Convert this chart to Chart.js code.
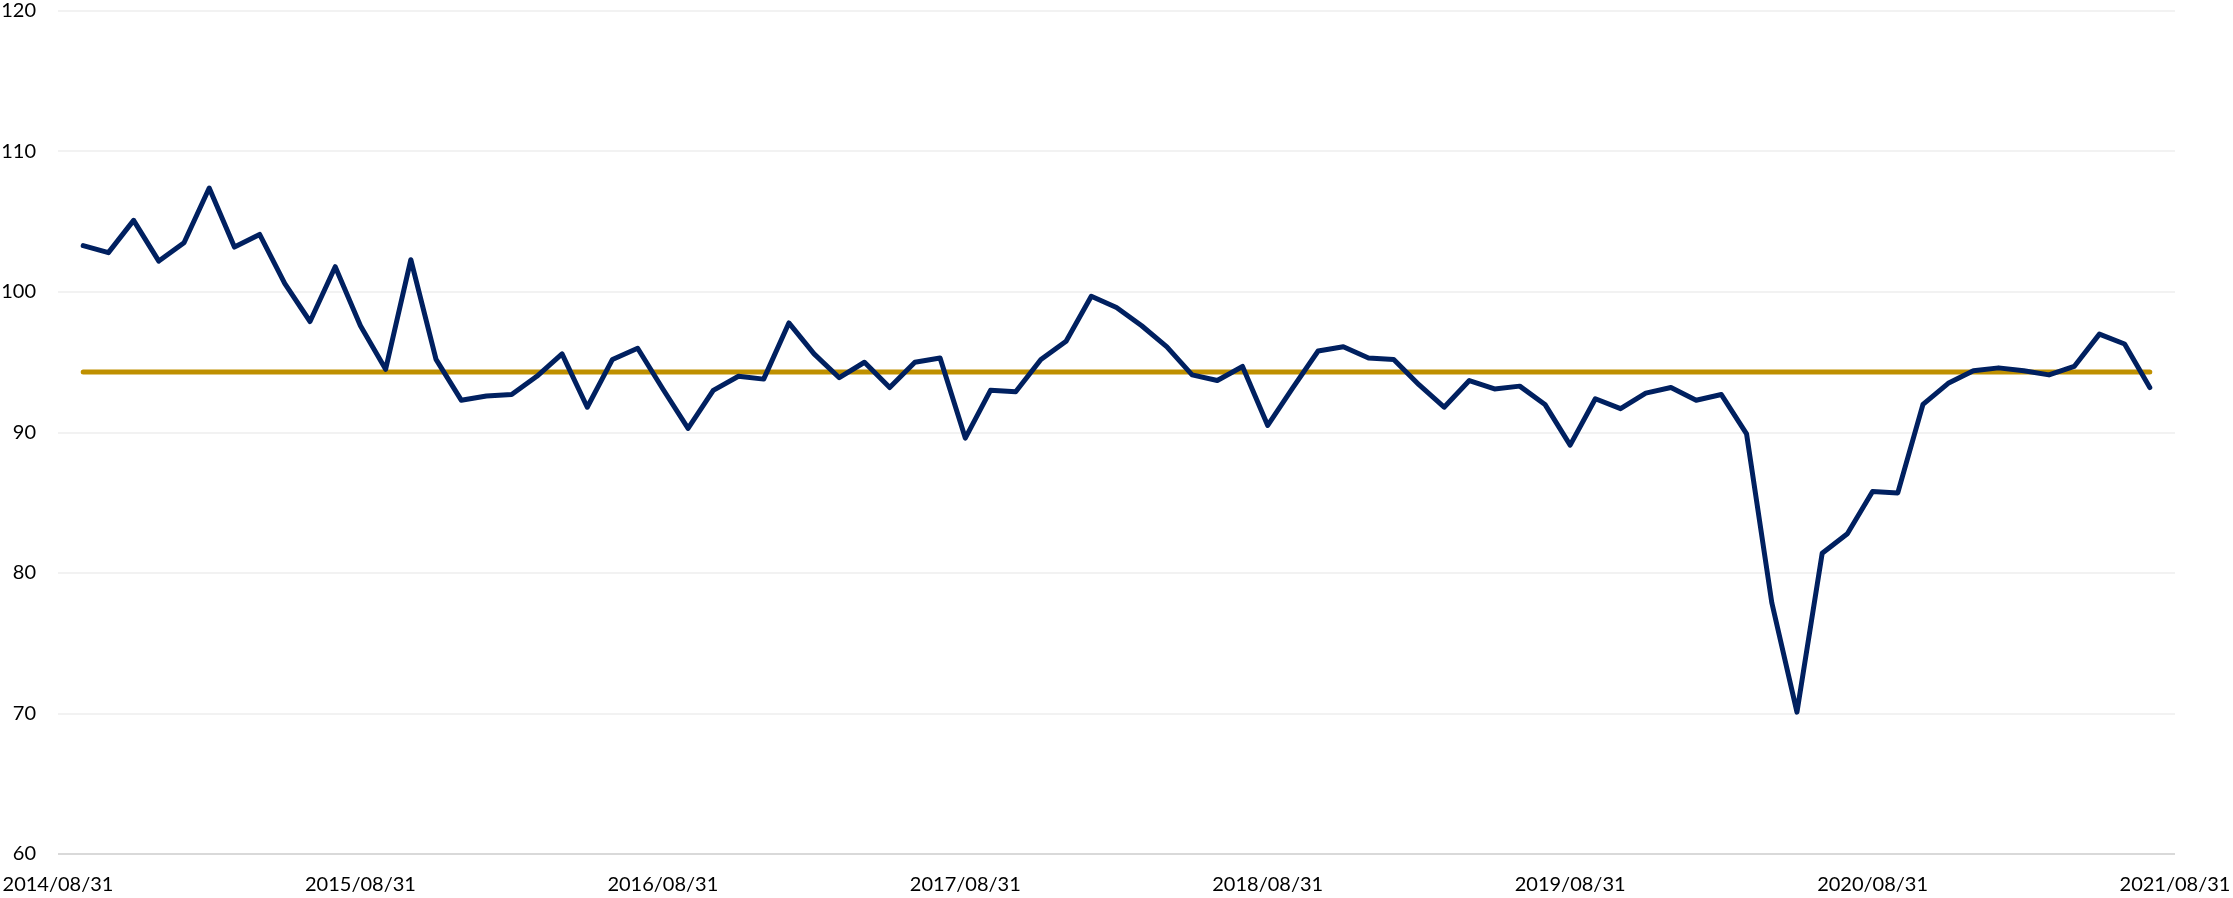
<!DOCTYPE html>
<html>
<head>
<meta charset="utf-8">
<script src="https://cdn.jsdelivr.net/npm/chart.js@4.4.1/dist/chart.umd.min.js"></script>
<style>
  html, body { margin: 0; padding: 0; background: #ffffff; }
  #wrap { position: relative; width: 2233px; height: 898px; }
</style>
</head>
<body>
<div id="wrap"><canvas id="c"></canvas></div>
<script>
// Month-end categories of the x axis
const categories = [
  '2014/08/31','2014/09/30','2014/10/31','2014/11/30','2014/12/31',
  '2015/01/31','2015/02/28','2015/03/31','2015/04/30','2015/05/31','2015/06/30','2015/07/31','2015/08/31','2015/09/30','2015/10/31','2015/11/30','2015/12/31',
  '2016/01/31','2016/02/29','2016/03/31','2016/04/30','2016/05/31','2016/06/30','2016/07/31','2016/08/31','2016/09/30','2016/10/31','2016/11/30','2016/12/31',
  '2017/01/31','2017/02/28','2017/03/31','2017/04/30','2017/05/31','2017/06/30','2017/07/31','2017/08/31','2017/09/30','2017/10/31','2017/11/30','2017/12/31',
  '2018/01/31','2018/02/28','2018/03/31','2018/04/30','2018/05/31','2018/06/30','2018/07/31','2018/08/31','2018/09/30','2018/10/31','2018/11/30','2018/12/31',
  '2019/01/31','2019/02/28','2019/03/31','2019/04/30','2019/05/31','2019/06/30','2019/07/31','2019/08/31','2019/09/30','2019/10/31','2019/11/30','2019/12/31',
  '2020/01/31','2020/02/29','2020/03/31','2020/04/30','2020/05/31','2020/06/30','2020/07/31','2020/08/31','2020/09/30','2020/10/31','2020/11/30','2020/12/31',
  '2021/01/31','2021/02/28','2021/03/31','2021/04/30','2021/05/31','2021/06/30','2021/07/31','2021/08/31'
];

// Labels shown on the x axis
const tickLabels = ['2014/08/31','2015/08/31','2016/08/31','2017/08/31','2018/08/31','2019/08/31','2020/08/31','2021/08/31'];

// Monthly index values, 2014/09/30 .. 2021/07/31
const seriesDates = categories.slice(1, 84);
const indexValues = [
  103.3, 102.8, 105.1, 102.2, 103.5, 107.4, 103.2, 104.1, 100.6, 97.9,
  101.8, 97.6, 94.5, 102.3, 95.2, 92.3, 92.6, 92.7, 94.0, 95.6,
  91.8, 95.2, 96.0, 93.1, 90.3, 93.0, 94.0, 93.8, 97.8, 95.6,
  93.9, 95.0, 93.2, 95.0, 95.3, 89.6, 93.0, 92.9, 95.2, 96.5,
  99.7, 98.9, 97.6, 96.1, 94.1, 93.7, 94.7, 90.5, 93.2, 95.8,
  96.1, 95.3, 95.2, 93.4, 91.8, 93.7, 93.1, 93.3, 92.0, 89.1,
  92.4, 91.7, 92.8, 93.2, 92.3, 92.7, 89.9, 77.9, 70.1, 81.4,
  82.8, 85.8, 85.7, 92.0, 93.5, 94.4, 94.6, 94.4, 94.1, 94.7,
  97.0, 96.3, 93.2
];

// Horizontal reference level (long-run average)
const averageLevel = 94.3;
const averageSpan = ['2014/09/30', '2021/07/31'];

// Y axis ticks
const yTicks = [60, 70, 80, 90, 100, 110, 120];

const ctx = document.getElementById('c');
new Chart(ctx, {
  type: 'line',
  data: {
    labels: categories,
    datasets: [
      {
        label: 'Average',
        data: averageSpan.map(d => ({ x: d, y: averageLevel })),
        borderColor: '#BF9000',
        borderWidth: 5,
        borderCapStyle: 'round',
        pointRadius: 0,
        tension: 0,
        order: 2
      },
      {
        label: 'Index',
        data: indexValues.map((v, i) => ({ x: seriesDates[i], y: v })),
        borderColor: '#002060',
        borderWidth: 5,
        borderJoinStyle: 'round',
        borderCapStyle: 'round',
        pointRadius: 0,
        tension: 0,
        order: 1
      }
    ]
  },
  options: {
    responsive: true,
    maintainAspectRatio: false,
    animation: false,
    layout: { padding: 0 },
    plugins: {
      legend: { display: false },
      tooltip: { enabled: false }
    },
    scales: {
      x: {
        type: 'category',
        offset: false,
        grid: { display: false, drawTicks: false },
        border: { display: false },
        afterFit: (axis) => { axis.paddingLeft = 0; axis.paddingRight = 58; axis.height = 44; },
        ticks: {
          autoSkip: false,
          maxRotation: 0,
          minRotation: 0,
          padding: 19,
          color: '#000000',
          font: { family: 'Lato', size: 20 },
          callback: function (value) {
            const lab = this.getLabelForValue(value);
            return tickLabels.includes(lab) ? lab : null;
          }
        }
      },
      y: {
        min: 60,
        max: 120,
        afterBuildTicks: (axis) => { axis.ticks = yTicks.map(v => ({ value: v })); },
        afterFit: (axis) => { axis.width = 58; axis.paddingTop = 11; axis.paddingBottom = 0; },
        grid: {
          drawTicks: false,
          lineWidth: 2,
          color: (c) => (c.tick && c.tick.value === 60 ? '#D9D9D9' : '#F2F2F2')
        },
        border: { display: false },
        ticks: {
          padding: 22,
          color: '#000000',
          font: { family: 'Lato', size: 20 }
        }
      }
    }
  }
});
</script>
</body>
</html>
